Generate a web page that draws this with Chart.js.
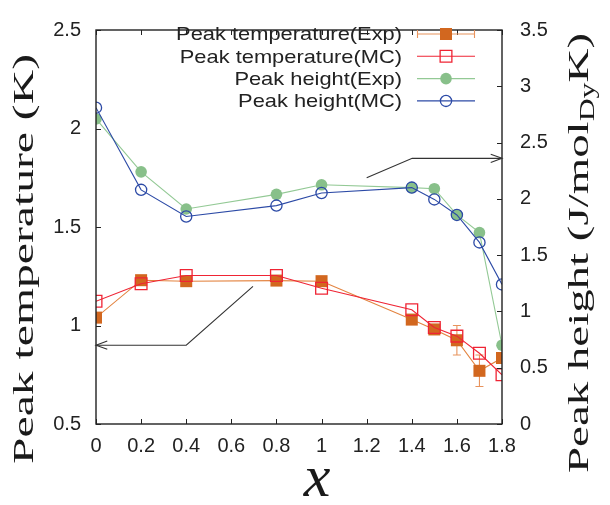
<!DOCTYPE html>
<html>
<head>
<meta charset="utf-8">
<script src="https://cdn.jsdelivr.net/npm/chart.js@4/dist/chart.umd.min.js"></script>
<style>
  html, body { margin: 0; padding: 0; background: #fff; }
  canvas { display: block; }
</style>
</head>
<body>
<canvas id="grafico" width="610" height="505"></canvas>
<script>
// dados
const xVals = [0, 0.2, 0.4, 0.8, 1.0, 1.4, 1.5, 1.6, 1.7, 1.8];
const tempExp = [1.04, 1.23, 1.225, 1.228, 1.225, 1.03, 0.98, 0.925, 0.77, 0.835];
const tempExpErr = [0, 0, 0, 0, 0, 0, 0, 0.075, 0.08, 0];
const tempMC = [1.123, 1.212, 1.254, 1.254, 1.189, 1.08, 0.99, 0.946, 0.859, 0.75];
const heightExp = [2.71, 2.24, 1.91, 2.04, 2.125, 2.10, 2.09, 1.857, 1.70, 0.70];
const heightMC = [2.81, 2.08, 1.843, 1.94, 2.052, 2.10, 1.995, 1.857, 1.613, 1.24];

const xTicks = [0, 0.2, 0.4, 0.6, 0.8, 1, 1.2, 1.4, 1.6, 1.8];
const tempTicks = [0.5, 1, 1.5, 2, 2.5];
const heightTicks = [0, 0.5, 1, 1.5, 2, 2.5, 3, 3.5];

const seriesLabels = ["Peak temperature(Exp)", "Peak temperature(MC)", "Peak height(Exp)", "Peak height(MC)"];

// setas: [x, valor] em unidades dos dados
const arrowTemp = [[0.696, 1.199], [0.4, 0.9], [0, 0.9]];
const arrowHeight = [[1.2, 2.187], [1.402, 2.36], [1.8, 2.36]];

const pts = (ys) => xVals.map((x, i) => ({ x: x, y: ys[i] }));

const cores = {
    orange: "#d2671f",
    orangeLine: "#e3833f",
    orangeErr: "#e8935c",
    red: "#ef2434",
    green: "#88c08a",
    greenLine: "#93c995",
    blue: "#2c4aa6",
    axis: "#222"
};

const SERIF = "'Liberation Serif', 'Times New Roman', 'DejaVu Serif', serif";

function marker(ctx, style, x, y, r, fill, stroke, lw) {
    ctx.save();
    ctx.beginPath();
    if (style === "rect") {
        const s = r * Math.SQRT1_2;
        ctx.rect(x - s, y - s, 2 * s, 2 * s);
    } else {
        ctx.arc(x, y, r, 0, Math.PI * 2);
    }
    if (fill) { ctx.fillStyle = fill; ctx.fill(); }
    if (stroke) { ctx.strokeStyle = stroke; ctx.lineWidth = lw; ctx.stroke(); }
    ctx.restore();
}

function drawArrow(ctx, chart, path, yScaleId) {
    const xs = chart.scales.x, ys = chart.scales[yScaleId];
    const p = path.map(([a, b]) => [xs.getPixelForValue(a), ys.getPixelForValue(b)]);
    ctx.save();
    ctx.strokeStyle = "#333";
    ctx.lineWidth = 1.1;
    ctx.beginPath();
    ctx.moveTo(p[0][0], p[0][1]);
    for (let i = 1; i < p.length; i++) ctx.lineTo(p[i][0], p[i][1]);
    ctx.stroke();
    // ponta da seta
    const n = p.length;
    const tip = p[n - 1], prev = p[n - 2];
    const ang = Math.atan2(tip[1] - prev[1], tip[0] - prev[0]);
    ctx.beginPath();
    ctx.moveTo(tip[0] - 12 * Math.cos(ang - 0.35), tip[1] - 12 * Math.sin(ang - 0.35));
    ctx.lineTo(tip[0], tip[1]);
    ctx.lineTo(tip[0] - 12 * Math.cos(ang + 0.35), tip[1] - 12 * Math.sin(ang + 0.35));
    ctx.stroke();
    ctx.restore();
}

const errorBars = {
    id: "errorBars",
    beforeDatasetsDraw(chart) {
        const ctx = chart.ctx, xs = chart.scales.x, ys = chart.scales.y;
        ctx.save();
        ctx.strokeStyle = cores.orangeErr;
        ctx.lineWidth = 1.1;
        xVals.forEach((x, i) => {
            const e = tempExpErr[i];
            if (!e) return;
            const px = xs.getPixelForValue(x);
            const top = ys.getPixelForValue(tempExp[i] + e);
            const bot = ys.getPixelForValue(tempExp[i] - e);
            ctx.beginPath();
            ctx.moveTo(px, top); ctx.lineTo(px, bot);
            ctx.moveTo(px - 4, top); ctx.lineTo(px + 4, top);
            ctx.moveTo(px - 4, bot); ctx.lineTo(px + 4, bot);
            ctx.stroke();
        });
        ctx.restore();
    }
};

const frame = {
    id: "frame",
    afterDatasetsDraw(chart) {
        const ctx = chart.ctx, a = chart.chartArea;
        const xs = chart.scales.x, yl = chart.scales.y, yr = chart.scales.y2;
        ctx.save();
        ctx.strokeStyle = cores.axis;
        ctx.lineWidth = 1.4;
        ctx.strokeRect(a.left, a.top, a.right - a.left, a.bottom - a.top);
        ctx.lineWidth = 1;
        ctx.beginPath();
        const t = 5;
        xTicks.forEach(v => {
            const px = Math.round(xs.getPixelForValue(v)) + 0.5;
            ctx.moveTo(px, a.bottom); ctx.lineTo(px, a.bottom - t);
            ctx.moveTo(px, a.top); ctx.lineTo(px, a.top + t);
        });
        tempTicks.forEach(v => {
            const py = Math.round(yl.getPixelForValue(v)) + 0.5;
            ctx.moveTo(a.left, py); ctx.lineTo(a.left + t, py);
        });
        heightTicks.forEach(v => {
            const py = Math.round(yr.getPixelForValue(v)) + 0.5;
            ctx.moveTo(a.right, py); ctx.lineTo(a.right - t, py);
        });
        ctx.stroke();
        ctx.restore();

        drawArrow(ctx, chart, arrowTemp, "y");
        drawArrow(ctx, chart, arrowHeight, "y2");
    }
};

const titlesAndLegend = {
    id: "titlesAndLegend",
    afterDraw(chart) {
        const ctx = chart.ctx;
        ctx.save();
        ctx.fillStyle = "#1a1a1a";

        // titulo eixo esquerdo
        ctx.save();
        ctx.translate(25, 259);
        ctx.rotate(-Math.PI / 2);
        ctx.font = "28px " + SERIF;
        ctx.textAlign = "center";
        ctx.textBaseline = "middle";
        const leftTxt = "Peak temperature (K)";
        const wl = ctx.measureText(leftTxt).width;
        ctx.scale(410 / wl, 1.08);
        ctx.fillText(leftTxt, 0, 0);
        ctx.restore();

        // titulo eixo direito com subscrito
        ctx.save();
        ctx.translate(580, 253);
        ctx.rotate(-Math.PI / 2);
        ctx.textBaseline = "middle";
        ctx.textAlign = "left";
        const big = "28px " + SERIF, small = "19px " + SERIF;
        const parts = [["Peak height (J/mol", big, 0], ["Dy", small, 8], ["K)", big, 0]];
        let total = 0;
        parts.forEach(p => { ctx.font = p[1]; total += ctx.measureText(p[0]).width; });
        ctx.scale(440 / total, 1.08);
        let cx = -total / 2;
        parts.forEach(p => {
            ctx.font = p[1];
            ctx.fillText(p[0], cx, p[2]);
            cx += ctx.measureText(p[0]).width;
        });
        ctx.restore();

        // titulo eixo x
        ctx.font = "italic 60px " + SERIF;
        ctx.textAlign = "center";
        ctx.textBaseline = "alphabetic";
        ctx.fillText("x", 317, 496);

        // legenda
        const estilos = [
            { line: cores.orangeLine, style: "rect", r: 8.5, fill: cores.orange, stroke: null, err: true },
            { line: cores.red, style: "rect", r: 8.3, fill: null, stroke: cores.red, err: false },
            { line: cores.greenLine, style: "circle", r: 5.8, fill: cores.green, stroke: null, err: false },
            { line: cores.blue, style: "circle", r: 5.6, fill: null, stroke: cores.blue, err: false }
        ];
        seriesLabels.forEach((lab, i) => {
            const y = 34 + i * 22.3;
            const s = estilos[i];
            ctx.save();
            ctx.fillStyle = "#222";
            ctx.font = "19px 'Liberation Sans'";
            ctx.textAlign = "right";
            ctx.textBaseline = "middle";
            ctx.translate(402, y + 1);
            ctx.scale(1.15, 1);
            ctx.fillText(lab, 0, 0);
            ctx.restore();

            ctx.save();
            ctx.strokeStyle = s.err ? cores.orangeErr : s.line;
            ctx.lineWidth = 1.1;
            ctx.beginPath();
            ctx.moveTo(417, y); ctx.lineTo(475, y);
            if (s.err) {
                ctx.moveTo(417.5, y - 4); ctx.lineTo(417.5, y + 4);
                ctx.moveTo(474.5, y - 4); ctx.lineTo(474.5, y + 4);
            }
            ctx.stroke();
            ctx.restore();
            marker(ctx, s.style, 446, y, s.r, s.fill, s.stroke, 1.3);
        });
        ctx.restore();
    }
};

const fixedTicks = (vals) => (scale) => { scale.ticks = vals.map(v => ({ value: v })); };
const tickFont = { family: "'Liberation Sans'", size: 20 };
const fmt = (v) => String(v);

new Chart(document.getElementById("grafico"), {
    type: "line",
    data: {
        datasets: [
            {
                label: seriesLabels[0], data: pts(tempExp), yAxisID: "y", order: 1,
                borderColor: cores.orangeLine, borderWidth: 1.1,
                pointStyle: "rect", pointRadius: 8.5, pointBackgroundColor: cores.orange,
                pointBorderWidth: 0, pointBorderColor: cores.orange
            },
            {
                label: seriesLabels[1], data: pts(tempMC), yAxisID: "y", order: 0,
                borderColor: cores.red, borderWidth: 1.1,
                pointStyle: "rect", pointRadius: 8.3, pointBackgroundColor: "rgba(0,0,0,0)",
                pointBorderWidth: 1.3, pointBorderColor: cores.red
            },
            {
                label: seriesLabels[2], data: pts(heightExp), yAxisID: "y2", order: 1,
                borderColor: cores.greenLine, borderWidth: 1.1,
                pointStyle: "circle", pointRadius: 5.8, pointBackgroundColor: cores.green,
                pointBorderWidth: 0, pointBorderColor: cores.green
            },
            {
                label: seriesLabels[3], data: pts(heightMC), yAxisID: "y2", order: 0,
                borderColor: cores.blue, borderWidth: 1.1,
                pointStyle: "circle", pointRadius: 5.6, pointBackgroundColor: "rgba(0,0,0,0)",
                pointBorderWidth: 1.3, pointBorderColor: cores.blue
            }
        ]
    },
    options: {
        responsive: false,
        animation: false,
        devicePixelRatio: 1,
        layout: { padding: { top: 17, left: 0, right: 0, bottom: 0 } },
        plugins: { legend: { display: false }, tooltip: { enabled: false } },
        elements: { line: { tension: 0 } },
        scales: {
            x: {
                type: "linear", min: 0, max: 1.8,
                afterBuildTicks: fixedTicks(xTicks),
                afterFit: (s) => { s.height = 81; },
                grid: { display: false, drawTicks: false },
                border: { display: false },
                ticks: { padding: 10, color: "#222", font: tickFont, callback: fmt }
            },
            y: {
                type: "linear", position: "left", min: 0.5, max: 2.5,
                afterBuildTicks: fixedTicks(tempTicks),
                afterFit: (s) => { s.width = 96; },
                grid: { display: false, drawTicks: false },
                border: { display: false },
                ticks: { padding: 15, color: "#222", font: tickFont, callback: fmt }
            },
            y2: {
                type: "linear", position: "right", min: 0, max: 3.5,
                afterBuildTicks: fixedTicks(heightTicks),
                afterFit: (s) => { s.width = 108; },
                grid: { display: false, drawTicks: false },
                border: { display: false },
                ticks: { padding: 18, color: "#222", font: tickFont, callback: fmt }
            }
        }
    },
    plugins: [errorBars, frame, titlesAndLegend]
});
</script>
</body>
</html>
